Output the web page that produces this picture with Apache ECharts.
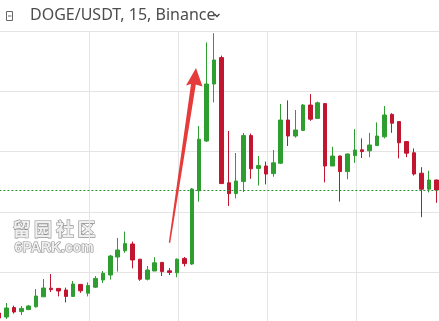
<!DOCTYPE html>
<html><head><meta charset="utf-8">
<script src="https://cdn.jsdelivr.net/npm/echarts@6/dist/echarts.min.js"></script>
<style>html,body{margin:0;padding:0;background:#fff}#c{width:439px;height:321px}</style>
</head><body><div id="c"></div>
<script>
// 15-minute candles, DOGE/USDT (Binance)
var categories = ["00:00","00:15","00:30","00:45","01:00","01:15","01:30","01:45","02:00","02:15",
"02:30","02:45","03:00","03:15","03:30","03:45","04:00","04:15","04:30","04:45",
"05:00","05:15","05:30","05:45","06:00","06:15","06:30","06:45","07:00","07:15",
"07:30","07:45","08:00","08:15","08:30","08:45","09:00","09:15","09:30","09:45",
"10:00","10:15","10:30","10:45","11:00","11:15","11:30","11:45","12:00","12:15",
"12:30","12:45","13:00","13:15","13:30","13:45","14:00","14:15","14:30","14:45"];
var openP = [0.02811,0.02791,0.02838,0.02818,0.02828,0.02842,0.02892,0.02935,0.02934,0.02926,
0.02894,0.02954,0.02910,0.02940,0.02976,0.03001,0.03091,0.03122,0.03156,0.03080,
0.02980,0.03021,0.03064,0.03022,0.03012,0.03084,0.03056,0.03422,0.03671,0.03956,
0.04088,0.03462,0.03408,0.03468,0.03698,0.03534,0.03546,0.03508,0.03560,0.03776,
0.03696,0.03724,0.03851,0.03784,0.03858,0.03546,0.03596,0.03518,0.03598,0.03627,
0.03622,0.03648,0.03692,0.03804,0.03768,0.03668,0.03612,0.03510,0.03430,0.03476];
var closeP = [0.02786,0.02836,0.02816,0.02834,0.02846,0.02896,0.02936,0.02928,0.02921,0.02894,
0.02956,0.02922,0.02948,0.02984,0.03010,0.03096,0.03126,0.03158,0.03076,0.02980,
0.03026,0.03062,0.03018,0.03014,0.03080,0.03058,0.03431,0.03680,0.03956,0.04076,
0.03458,0.03408,0.03471,0.03698,0.03532,0.03548,0.03506,0.03562,0.03776,0.03696,
0.03726,0.03851,0.03780,0.03862,0.03546,0.03596,0.03518,0.03606,0.03626,0.03618,
0.03651,0.03696,0.03801,0.03760,0.03662,0.03610,0.03506,0.03430,0.03476,0.03426];
var lowP = [0.02776,0.02781,0.02808,0.02801,0.02826,0.02838,0.02891,0.02916,0.02894,0.02864,
0.02891,0.02912,0.02894,0.02936,0.02961,0.02978,0.03018,0.03112,0.03034,0.02972,
0.02974,0.03021,0.02996,0.03001,0.02990,0.03044,0.03051,0.03368,0.03666,0.03864,
0.03456,0.03346,0.03384,0.03416,0.03482,0.03448,0.03454,0.03492,0.03556,0.03646,
0.03688,0.03721,0.03772,0.03784,0.03464,0.03546,0.03368,0.03480,0.03562,0.03586,
0.03590,0.03646,0.03684,0.03712,0.03584,0.03590,0.03498,0.03290,0.03414,0.03362];
var highP = [0.02821,0.02861,0.02848,0.02846,0.02851,0.02931,0.02981,0.03006,0.02936,0.02938,
0.02971,0.02956,0.02964,0.02996,0.03021,0.03101,0.03186,0.03218,0.03168,0.03081,
0.03046,0.03090,0.03066,0.03036,0.03084,0.03091,0.03436,0.03746,0.04164,0.04210,
0.04098,0.03721,0.03611,0.03711,0.03708,0.03596,0.03568,0.03626,0.03856,0.03874,
0.03826,0.03856,0.03906,0.03868,0.03860,0.03642,0.03598,0.03608,0.03730,0.03684,
0.03712,0.03764,0.03846,0.03810,0.03771,0.03671,0.03634,0.03540,0.03522,0.03478];
var title = "DOGE/USDT, 15, Binance";

var kdata = categories.map(function(_, i){ return [openP[i], closeP[i], lowP[i], highP[i]]; });
var lastClose = closeP[closeP.length - 1];

var UP = '#2f9e31', DOWN = '#c11530', GRIDC = '#e4e4e4';
var chart = echarts.init(document.getElementById('c'), null, {renderer:'canvas'});
chart.setOption({
  animation: false,
  backgroundColor: '#ffffff',
  grid: [
    {left: -4.6, right: -1, top: -29.3, bottom: -11.5, outerBoundsMode: 'none', containLabel: false},
    {left: 0.5, right: 0, top: 31, bottom: 0, outerBoundsMode: 'none', containLabel: false}
  ],
  xAxis: [
    {type:'category', gridIndex:0, data: categories, boundaryGap: true,
     axisLine:{show:false}, axisTick:{show:false}, axisLabel:{show:false}, splitLine:{show:false}},
    {type:'value', gridIndex:1, min:0, max:59.18, interval:12,
     axisLine:{show:false}, axisTick:{show:false}, axisLabel:{show:false},
     splitLine:{show:true, showMinLine:false, showMaxLine:false, lineStyle:{color:GRIDC, width:1}}}
  ],
  yAxis: [
    {type:'value', gridIndex:0, min:0.027135, max:0.045225, interval:0.003015,
     axisLine:{show:false}, axisTick:{show:false}, axisLabel:{show:false},
     splitLine:{show:true, lineStyle:{color:GRIDC, width:1}}},
    {type:'value', gridIndex:1, show:false, min:0, max:1}
  ],
  series: [{
    type:'candlestick', xAxisIndex:0, yAxisIndex:0,
    data: kdata, barWidth: 4,
    itemStyle:{color:UP, color0:DOWN, borderColor:UP, borderColor0:DOWN, borderWidth:1},
    markLine:{
      silent:true, precision:6, symbol:['none','none'], label:{show:false},
      lineStyle:{color:'#2b8f2b', type:[2,2], width:1, opacity:1},
      emphasis:{disabled:true},
      data:[{yAxis:lastClose}]
    }
  }],
  graphic: [
    {type:'rect', shape:{x:6.5, y:11.5, width:6, height:9}, style:{fill:'none', stroke:'#666', lineWidth:1}},
    {type:'line', shape:{x1:8, y1:16, x2:11.5, y2:16}, style:{stroke:'#666', lineWidth:1}},
    {type:'text', left:30, top:7, style:{text:title, font:'16px "Noto Sans"', fill:'#4d4d4d'}},
    {type:'polyline', shape:{points:[[214.5,14],[217,16.5],[219.5,14]]}, style:{stroke:'#444', lineWidth:1.4, fill:'none'}},
    {type:'text', left:12, top:220, style:{text:'留', font:'bold 18px "Noto Sans CJK SC"', fill:'#efefef', stroke:'#8f8f8f', lineWidth:1.2}},
    {type:'text', left:33.5, top:220, style:{text:'园', font:'bold 18px "Noto Sans CJK SC"', fill:'#efefef', stroke:'#8f8f8f', lineWidth:1.2}},
    {type:'text', left:55.5, top:220, style:{text:'社', font:'bold 18px "Noto Sans CJK SC"', fill:'#efefef', stroke:'#8f8f8f', lineWidth:1.2}},
    {type:'text', left:77, top:220, style:{text:'区', font:'bold 18px "Noto Sans CJK SC"', fill:'#efefef', stroke:'#8f8f8f', lineWidth:1.2}},
    {type:'text', left:14, top:241, style:{text:'6PARK.com', font:'bold 14px "Liberation Sans"', fill:'#efefef', stroke:'#8f8f8f', lineWidth:1.2}},
    {type:'polygon', z:10, shape:{points:[[196,68],[202.5,86.5],[195.8,84.5],[170.2,243],[168.8,242.5],[191,84],[186,85.5]]},
     style:{fill:'#e53b3b'}}
  ]
});
</script></body></html>
